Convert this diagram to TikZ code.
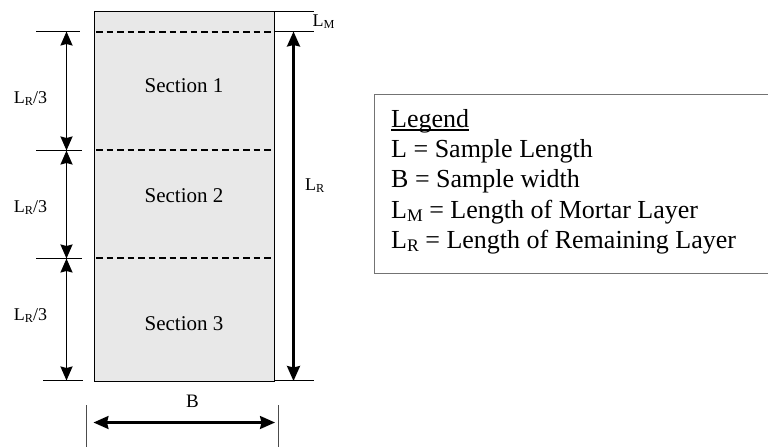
\documentclass[tikz,border=0pt]{standalone}
\usepackage{fontspec}
\setmainfont{Liberation Serif}
\usepackage{graphicx}
\usetikzlibrary{arrows.meta}
\newcommand\lsub[1]{\raisebox{-0.12em}{\scalebox{0.68}{#1}}}
\begin{document}
\begin{tikzpicture}[x=1pt,y=-1pt,
  thinline/.style={line width=1pt, black},
  dimline/.style={line width=1.7pt, {Stealth[length=14pt,width=12pt,inset=1.5pt]}-{Stealth[length=14pt,width=12pt,inset=1.5pt]}},
  secline/.style={line width=2pt, dash pattern=on 6.5pt off 4pt},
  lbl/.style={font=\fontsize{18}{20}\selectfont, inner sep=0pt},
  seclbl/.style={font=\fontsize{21}{24}\selectfont, inner sep=0pt, anchor=base},
  leg/.style={font=\fontsize{26}{30}\selectfont, inner sep=0pt, anchor=base west}]
\useasboundingbox (0,0) rectangle (768,447);
% sample
\node[name=sample, draw, line width=1.3pt, fill=black!9, minimum width=180pt, minimum height=370pt, anchor=north west, inner sep=0pt] at (94,11) {};
% section lines
\coordinate (d1l) at (96,32); \coordinate (d1r) at (272,32);
\coordinate (d2l) at (96,150);  \coordinate (d2r) at (272,150);
\coordinate (d3l) at (96,258);\coordinate (d3r) at (272,258);
\draw[secline] (d1l) -- (d1r);
\draw[secline] (d2l) -- (d2r);
\draw[secline] (d3l) -- (d3r);
% section labels
\node[seclbl] (s1) at (184,92) {Section 1};
\node[seclbl] (s2) at (184,202) {Section 2};
\node[seclbl] (s3) at (184,330) {Section 3};
% left ticks
\coordinate (t1a) at (36,31.5);  \coordinate (t1b) at (80,31.5);
\coordinate (t2a) at (36,150.5);   \coordinate (t2b) at (82,150.5);
\coordinate (t3a) at (36,258.5); \coordinate (t3b) at (82,258.5);
\coordinate (t4a) at (43,380.5); \coordinate (t4b) at (83,380.5);
\draw[thinline] (t1a) -- (t1b);
\draw[thinline] (t2a) -- (t2b);
\draw[thinline] (t3a) -- (t3b);
\draw[thinline] (t4a) -- (t4b);
% left arrows
\coordinate (a1) at (66.5,31.5);
\coordinate (a2) at (66.5,150.5);
\coordinate (a3) at (66.5,258.5);
\coordinate (a4) at (66.5,380.5);
\draw[dimline] (a1) -- (a2);
\draw[dimline] (a2) -- (a3);
\draw[dimline] (a3) -- (a4);
\node[lbl, anchor=base] (lr1) at (30.5,103) {L\lsub{R}/3};
\node[lbl, anchor=base] (lr2) at (30.5,212) {L\lsub{R}/3};
\node[lbl, anchor=base] (lr3) at (30.5,320) {L\lsub{R}/3};
% right side
\coordinate (r0a) at (274,11.5);   \coordinate (r0b) at (314,11.5);
\coordinate (r1a) at (274,31.5); \coordinate (r1b) at (314,31.5);
\coordinate (r2a) at (274,380.5);  \coordinate (r2b) at (314,380.5);
\draw[thinline] (r0a) -- (r0b);
\draw[thinline] (r1a) -- (r1b);
\draw[thinline] (r2a) -- (r2b);
\coordinate (lrt) at (293.5,31.5);
\coordinate (lrb) at (293.5,381);
\draw[line width=2.4pt, {Stealth[length=15pt,width=13pt,inset=1.5pt]}-{Stealth[length=15pt,width=13pt,inset=1.5pt]}] (lrt) -- (lrb);
\node[lbl, anchor=base west] (lm) at (312.5,26.5) {L\lsub{M}};
\node[lbl, anchor=base west] (lr) at (305,190) {L\lsub{R}};
% bottom width
\coordinate (bl1) at (86,405);   \coordinate (bl2) at (86,447);
\coordinate (br1) at (278.3,405);\coordinate (br2) at (278.3,447);
\draw[line width=0.8pt, black!70] (bl1) -- (bl2);
\draw[line width=0.8pt, black!70] (br1) -- (br2);
\coordinate (ba) at (93.5,422.5);
\coordinate (bb) at (275,422.5);
\draw[line width=2.2pt, {Stealth[length=15pt,width=13pt,inset=1.5pt]}-{Stealth[length=15pt,width=13pt,inset=1.5pt]}] (ba) -- (bb);
\node[lbl, font=\fontsize{19}{21}\selectfont, anchor=base] (bw) at (192.5,407.5) {B};
% legend
\node[name=legbox, draw=black!55, line width=1.3pt, minimum width=401pt, minimum height=178.5pt, anchor=north west, inner sep=0pt] at (374,94) {};
\node[leg] (lg0) at (391,127) {Legend};
\draw[line width=1.4pt] ([yshift=-3pt]lg0.base west) -- ([yshift=-3pt]lg0.base east);
\node[leg] (lg1) at (391,157) {L = Sample Length};
\node[leg] (lg2) at (391,187.5) {B = Sample width};
\node[leg] (lg3) at (391,218) {L\lsub{M} = Length of Mortar Layer};
\node[leg] (lg4) at (391,248) {L\lsub{R} = Length of Remaining Layer};
\end{tikzpicture}
\end{document}
